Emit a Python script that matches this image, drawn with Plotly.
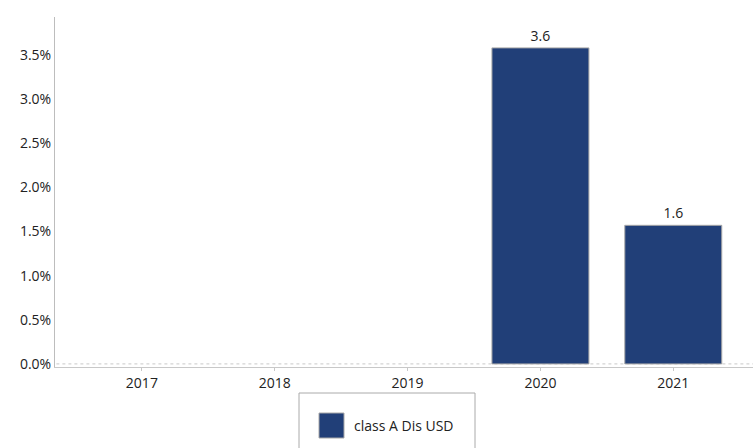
import plotly.graph_objects as go

years = ["2017", "2018", "2019", "2020", "2021"]
values = [None, None, None, 3.58, 1.57]
labels = ["", "", "", "3.6", "1.6"]
series_name = "class A Dis USD"
y_ticks = [0, 0.5, 1.0, 1.5, 2.0, 2.5, 3.0, 3.5]
y_tick_text = ["0.0%", "0.5%", "1.0%", "1.5%", "2.0%", "2.5%", "3.0%", "3.5%"]

FONT = "Open Sans"
BAR_COLOR = "#213F78"
TXT = "#222222"

fig = go.Figure()
fig.add_trace(go.Bar(
    x=years, y=values, name=series_name,
    text=labels, textposition="outside", cliponaxis=False,
    textfont=dict(family=FONT, size=14, color=TXT),
    marker=dict(color=BAR_COLOR, line=dict(color="#A8A8A8", width=1)),
    width=0.73, showlegend=False,
))

fig.update_layout(
    width=753, height=448, autosize=False,
    margin=dict(l=55, r=0, t=17, b=81),
    paper_bgcolor="white", plot_bgcolor="white",
    font=dict(family=FONT, size=14, color=TXT),
    xaxis=dict(
        type="category", range=[-0.654, 4.6],
        showline=True, linecolor="#C8C8C8", linewidth=1,
        ticks="outside", ticklen=3, tickcolor="#C8C8C8",
        showgrid=False, tickfont=dict(family=FONT, size=14, color=TXT),
    ),
    yaxis=dict(
        range=[-0.035, 3.93], tickmode="array",
        tickvals=y_ticks, ticktext=y_tick_text,
        showline=True, linecolor="#BDBDBD", linewidth=1,
        showgrid=False, zeroline=False, ticks="",
        tickfont=dict(family=FONT, size=14, color=TXT),
    ),
    shapes=[
        dict(type="line", xref="paper", yref="y", x0=0.002, x1=1, y0=0, y1=0,
             line=dict(color="#C8C8C8", width=1, dash="dot"), layer="below"),
        dict(type="rect", xref="paper", yref="paper",
             x0=(299 - 55) / 698, x1=(475 - 55) / 698,
             y0=(367 - 460) / 350, y1=(367 - 393) / 350,
             line=dict(color="#AAAAAA", width=1), fillcolor="white"),
        dict(type="rect", xref="paper", yref="paper",
             x0=(319 - 55) / 698, x1=(344 - 55) / 698,
             y0=(367 - 438) / 350, y1=(367 - 413) / 350,
             line=dict(color="#A8A8A8", width=1), fillcolor=BAR_COLOR),
    ],
    annotations=[
        dict(text=series_name, xref="paper", yref="paper",
             x=(352 - 55) / 698, y=(367 - 425) / 350,
             xanchor="left", yanchor="middle", showarrow=False,
             font=dict(family=FONT, size=14, color=TXT)),
    ],
)

fig.write_html(
    "out.html",
    config={"responsive": False, "displayModeBar": False},
    default_width="753px", default_height="448px",
    post_script="document.body.style.margin='0';document.body.style.overflow='hidden';",
)
